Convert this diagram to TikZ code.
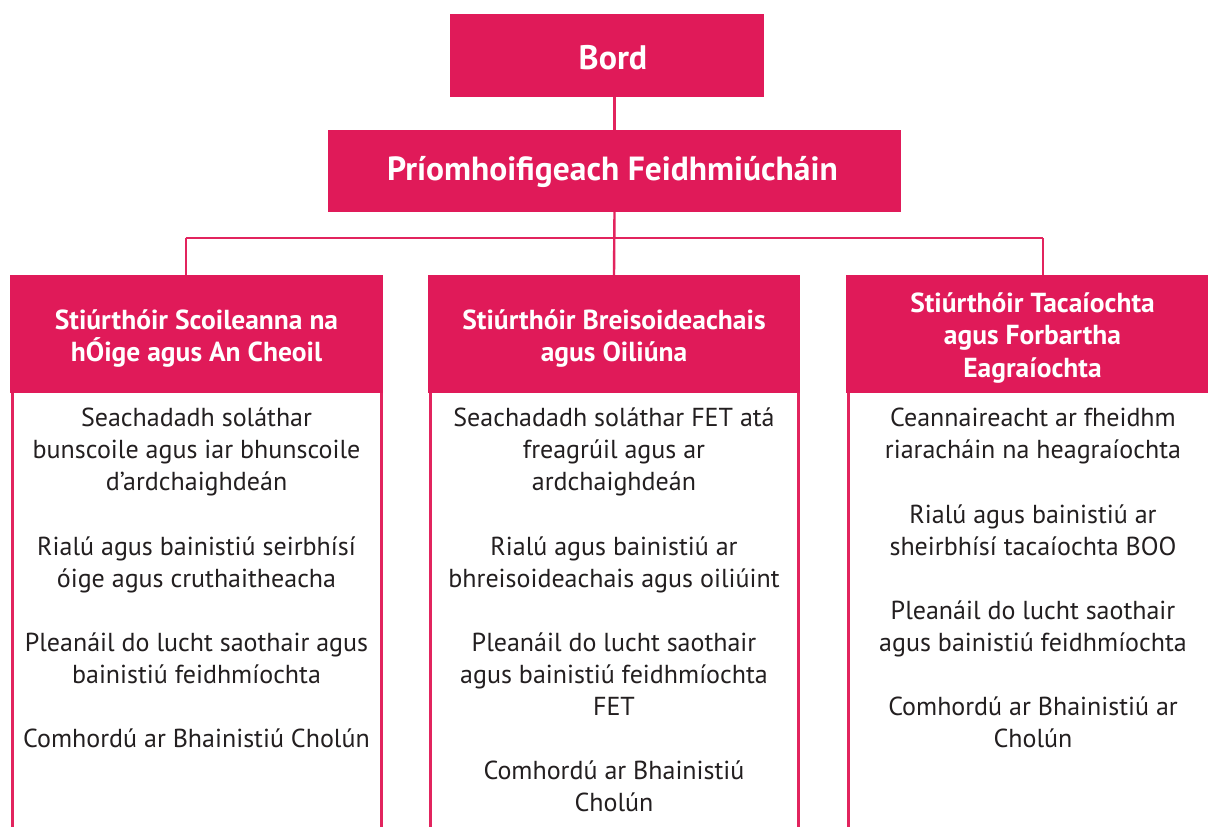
\documentclass[tikz,border=0pt]{standalone}
\usepackage{fontspec}
\setmainfont{PT Sans}
\definecolor{hdr}{HTML}{E01A59}
\definecolor{lnc}{HTML}{E2245E}
\definecolor{txt}{HTML}{231F20}
\tikzset{
  hdrbox/.style={fill=hdr, draw=none, inner sep=0pt},
  hdrtext/.style={text=white, font=\bfseries\fontsize{27.5}{32.5}\selectfont, align=center, inner sep=0pt},
  item/.style={text=txt, font=\fontsize{26}{32}\selectfont, align=center, inner sep=0pt},
  conn/.style={draw=lnc, line width=2.4pt},
  side/.style={draw=lnc, line width=2.6pt}
}
\begin{document}
\begin{tikzpicture}[x=1pt,y=-1pt]
\useasboundingbox (0,0) rectangle (1208,827);
\clip (0,0) rectangle (1208,827);
\fill[white] (0,0) rectangle (1208,827);

% top boxes
\node[hdrbox, minimum width=314pt, minimum height=83pt] (bord) at (606.5,55.5) {};
\node[hdrtext, font=\bfseries\fontsize{34}{36}\selectfont] (bordt) at (613,58) {Bord};
\node[hdrbox, minimum width=573pt, minimum height=82pt] (ceo) at (614.5,171) {};
\node[hdrtext, font=\bfseries\fontsize{33.5}{36}\selectfont] (ceot) at (612.5,172) {Príomhoifigeach Feidhmiúcháin};

% column headers
\node[hdrbox, minimum width=373pt, minimum height=118pt] (h1) at (196.5,334) {};
\node[hdrbox, minimum width=372pt, minimum height=118pt] (h2) at (614,334) {};
\node[hdrbox, minimum width=373pt, minimum height=118pt] (h3) at (1032.5,334) {};
\node[hdrtext] (h1t) at (196.5,338.5) {Stiúrthóir Scoileanna na\\hÓige agus An Cheoil};
\node[hdrtext] (h2t) at (614,338.5) {Stiúrthóir Breisoideachais\\agus Oiliúna};
\node[hdrtext] (h3t) at (1032.5,338) {Stiúrthóir Tacaíochta\\agus Forbartha\\Eagraíochta};

% connectors
\draw[conn] (bord.south -| ceo.north) -- (ceo.north);
\draw[conn] (ceo.south) -- (h2.north);
\coordinate (j1) at (185.7,238);
\coordinate (j3) at (1043,238);
\draw[conn] (j1) -- (j3);
\draw[conn] (j1) -- (j1 |- h1.north);
\draw[conn] (j3) -- (j3 |- h3.north);

% column sides
\foreach \h in {h1,h2,h3}{
  \draw[side] ([xshift=2.6pt]\h.south west) -- ++(0,460);
  \draw[side] ([xshift=-2pt]\h.south east) -- ++(0,460);
}

% column 1 items
\node[item] (a1) at (196.5,452) {Seachadadh soláthar\\bunscoile agus iar bhunscoile\\d’ardchaighdeán};
\node[item] (a2) at (196.5,564.5) {Rialú agus bainistiú seirbhísí\\óige agus cruthaitheacha};
\node[item] (a3) at (196.5,658.5) {Pleanáil do lucht saothair agus\\bainistiú feidhmíochta};
\node[item] (a4) at (196.5,738) {Comhordú ar Bhainistiú Cholún};

% column 2 items
\node[item] (b1) at (614,452) {Seachadadh soláthar FET atá\\freagrúil agus ar\\ardchaighdeán};
\node[item] (b2) at (614,564.5) {Rialú agus bainistiú ar\\bhreisoideachais agus oiliúint};
\node[item] (b3) at (614,674.5) {Pleanáil do lucht saothair\\agus bainistiú feidhmíochta\\FET};
\node[item] (b4) at (614,786.5) {Comhordú ar Bhainistiú\\Cholún};

% column 3 items
\node[item] (c1) at (1033,436) {Ceannaireacht ar fheidhm\\riaracháin na heagraíochta};
\node[item] (c2) at (1033,530) {Rialú agus bainistiú ar\\sheirbhísí tacaíochta BOO};
\node[item] (c3) at (1033,628.5) {Pleanáil do lucht saothair\\agus bainistiú feidhmíochta};
\node[item] (c4) at (1033,722.5) {Comhordú ar Bhainistiú ar\\Cholún};
\end{tikzpicture}
\end{document}
